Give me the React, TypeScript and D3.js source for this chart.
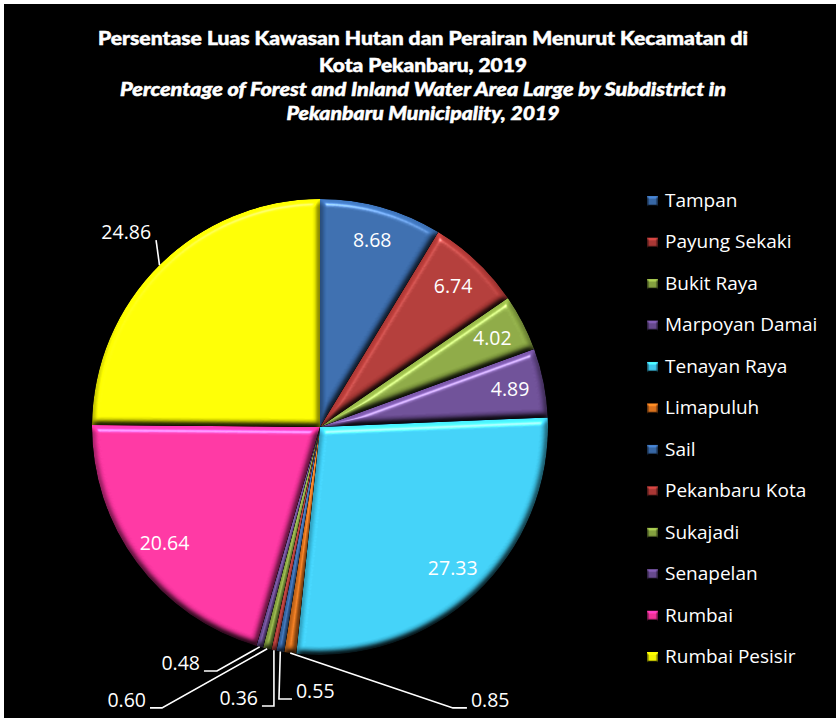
import React from "react";
import * as d3 from "d3";

const categories = [
  "Tampan",
  "Payung Sekaki",
  "Bukit Raya",
  "Marpoyan Damai",
  "Tenayan Raya",
  "Limapuluh",
  "Sail",
  "Pekanbaru Kota",
  "Sukajadi",
  "Senapelan",
  "Rumbai",
  "Rumbai Pesisir",
];
const values = [8.68, 6.74, 4.02, 4.89, 27.33, 0.85, 0.55, 0.36, 0.6, 0.48, 20.64, 24.86];
const colors = [
  "#3a6cad",
  "#b13a37",
  "#8ba843",
  "#6c4d95",
  "#3fcff6",
  "#e3761e",
  "#3a6cad",
  "#b13a37",
  "#8ba843",
  "#6c4d95",
  "#fd34a1",
  "#ffff00",
];
const titleLines = [
  "Persentase Luas Kawasan Hutan dan Perairan Menurut Kecamatan di",
  "Kota Pekanbaru, 2019",
  "Percentage of Forest and Inland Water Area Large by Subdistrict in",
  "Pekanbaru Municipality, 2019",
];

// callout label layout (offsets in radius units from the pie centre)
const callouts = [
  { index: 5, dx: 0.583, dy: 1.232, side: "right", hook: 14 },
  { index: 6, dx: -0.18, dy: 1.193, side: "right", hook: 13 },
  { index: 7, dx: -0.202, dy: 1.224, side: "left", hook: 12 },
  { index: 8, dx: -0.693, dy: 1.232, side: "left", hook: 12 },
  { index: 9, dx: -0.452, dy: 1.07, side: "left", hook: 13 },
  { index: 11, dx: -0.719, dy: -0.82, side: "left", hook: 0 },
];

const W = 836;
const H = 718;
const cx = 320;
const cy = 427;
const R = 228;
const labelFont = "'Open Sans', 'DejaVu Sans', sans-serif";
const titleFont = "Lato, 'Open Sans', sans-serif";

export default function App() {
  const pie = d3
    .pie<number>()
    .sort(null)
    .value((d) => d);
  const arcs = pie(values);
  const arcGen = d3.arc<d3.PieArcDatum<number>>().innerRadius(0).outerRadius(R);
  const labelArc = d3
    .arc<d3.PieArcDatum<number>>()
    .innerRadius(R * 0.85)
    .outerRadius(R * 0.85);
  const outside = new Set(callouts.map((c) => c.index));

  const titleWidths = [650, 208, 606, 273];
  const titleBase = [45, 72, 96, 120];

  const legendY = d3
    .scalePoint<string>()
    .domain(categories)
    .range([200, 656]);

  return (
    <svg
      width={W}
      height={H}
      style={{ position: "absolute", left: 0, top: 0, display: "block" }}
    >
      <defs>
        <filter id="bevel" x="-5%" y="-5%" width="110%" height="110%" colorInterpolationFilters="sRGB">
          <feGaussianBlur in="SourceAlpha" stdDeviation="3.2" result="blur" />
          <feDiffuseLighting in="blur" surfaceScale="5" diffuseConstant="1" lightingColor="#ffffff" result="diff">
            <feDistantLight azimuth="260" elevation="55" />
          </feDiffuseLighting>
          <feComposite in="SourceGraphic" in2="diff" operator="arithmetic" k1="1.2" k2="0" k3="0" k4="0" result="shaded" />
          <feSpecularLighting in="blur" surfaceScale="5" specularConstant="0.7" specularExponent="45" lightingColor="#ffffff" result="spec">
            <feDistantLight azimuth="260" elevation="50" />
          </feSpecularLighting>
          <feComposite in="spec" in2="SourceAlpha" operator="in" result="specIn" />
          <feComposite in="shaded" in2="specIn" operator="arithmetic" k1="0" k2="1" k3="0.6" k4="0" result="lit" />
          <feComposite in="lit" in2="SourceAlpha" operator="in" />
        </filter>
        <filter id="bevelSmall" x="-20%" y="-20%" width="140%" height="140%" colorInterpolationFilters="sRGB">
          <feGaussianBlur in="SourceAlpha" stdDeviation="1.3" result="blur" />
          <feDiffuseLighting in="blur" surfaceScale="3" diffuseConstant="1" lightingColor="#ffffff" result="diff">
            <feDistantLight azimuth="270" elevation="50" />
          </feDiffuseLighting>
          <feComposite in="SourceGraphic" in2="diff" operator="arithmetic" k1="1.25" k2="0" k3="0" k4="0" result="shaded" />
          <feComposite in="shaded" in2="SourceAlpha" operator="in" />
        </filter>
      </defs>

      <rect x={0} y={0} width={W} height={H} fill="#ffffff" />
      <rect x={4} y={4} width={W - 4} height={H - 4} fill="#000000" />

      {titleLines.map((t, i) => (
        <text
          key={i}
          x={423}
          y={titleBase[i]}
          textAnchor="middle"
          fill="#ffffff"
          stroke="#ffffff"
          strokeWidth={0.5}
          fontFamily={titleFont}
          fontWeight={900}
          fontStyle={i >= 2 ? "italic" : "normal"}
          fontSize={19}
          textLength={titleWidths[i]}
          lengthAdjust="spacingAndGlyphs"
        >
          {t}
        </text>
      ))}

      <g transform={`translate(${cx},${cy})`}>
        {arcs.map((a, i) => (
          <path key={i} d={arcGen(a) || ""} fill={colors[i]} filter="url(#bevel)" />
        ))}
        {arcs.map((a, i) => {
          if (outside.has(i)) return null;
          const [lx, ly] = labelArc.centroid(a);
          return (
            <text
              key={"l" + i}
              x={lx}
              y={ly}
              dy="0.36em"
              textAnchor="middle"
              fill="#ffffff"
              fontFamily={labelFont}
              fontSize={19.5}
            >
              {values[i].toFixed(2)}
            </text>
          );
        })}
        {callouts.map((c) => {
          const a = arcs[c.index];
          const mid = (a.startAngle + a.endAngle) / 2;
          const ex = R * Math.sin(mid);
          const ey = -R * Math.cos(mid);
          const bx = c.dx * R;
          const by = c.dy * R;
          const dir = c.side === "right" ? 1 : -1;
          const hx = bx + dir * c.hook;
          const tx = hx + dir * (c.hook ? 4 : 5);
          return (
            <g key={"c" + c.index}>
              <polyline
                points={`${ex},${ey} ${bx},${by} ${hx},${by}`}
                fill="none"
                stroke="#ffffff"
                strokeWidth={1.6}
              />
              <text
                x={tx}
                y={by - 1}
                textAnchor={c.side === "right" ? "start" : "end"}
                fill="#ffffff"
                fontFamily={labelFont}
                fontSize={19.5}
              >
                {values[c.index].toFixed(2)}
              </text>
            </g>
          );
        })}
      </g>

      {categories.map((name, i) => {
        const y = legendY(name) as number;
        return (
          <g key={"lg" + i}>
            <rect x={647} y={y - 4} width={11} height={11} fill={colors[i]} filter="url(#bevelSmall)" />
            <text
              x={665}
              y={y + 7}
              fill="#ffffff"
              fontFamily={labelFont}
              fontSize={19}
            >
              {name}
            </text>
          </g>
        );
      })}
    </svg>
  );
}
